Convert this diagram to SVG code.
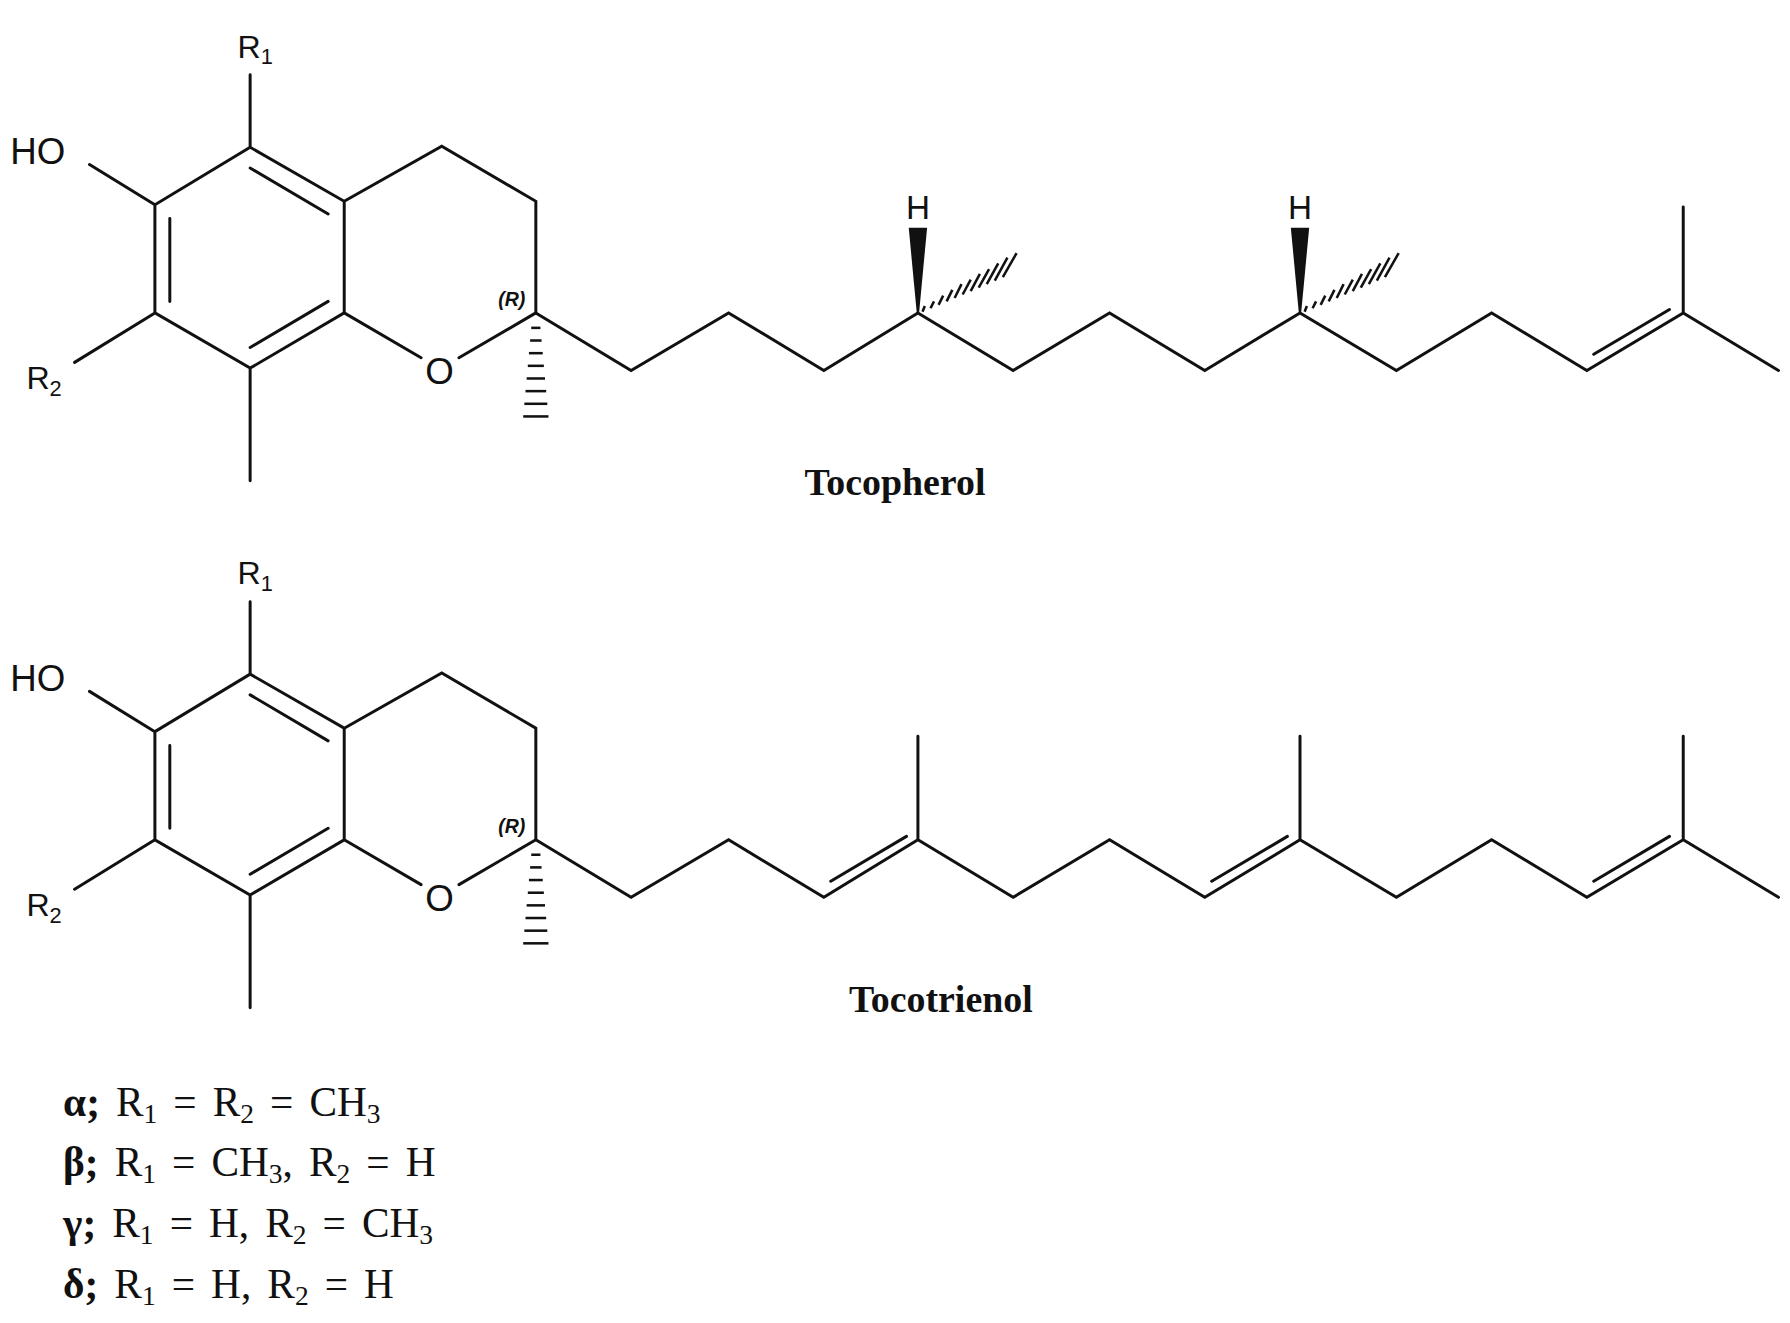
<svg xmlns="http://www.w3.org/2000/svg" width="1790" height="1323" viewBox="0 0 1790 1323">
<style>
.b{stroke:#111;stroke-width:2.6;fill:none;stroke-linecap:round}
.s{font-family:"Liberation Sans",Arial,sans-serif;fill:#111}
.t{font-family:"Liberation Serif","Times New Roman",serif;fill:#111}
.h{stroke:#111;stroke-width:2.2}
</style>
<defs>
<g id="core">
<path class="b" d="M218,65V128L300,175V272L218,320L135,272V178L218,128M300,175L385,127L467,175V272M300,272L367,311M400,311L467,272M218,320V418M78,143L135,178M65,315L135,272"/>
<path class="b" d="M218,146L286,186M148,190V262M218,302L286,262"/>
<g class="h">
<line x1="463" y1="285" x2="471" y2="285"/><line x1="462" y1="296" x2="472" y2="296"/><line x1="461" y1="307" x2="473" y2="307"/><line x1="460" y1="318" x2="474" y2="318"/><line x1="459" y1="329" x2="475" y2="329"/><line x1="458" y1="340" x2="476" y2="340"/><line x1="457" y1="351" x2="477" y2="351"/><line x1="456" y1="362" x2="478" y2="362"/>
</g>
<text class="s" x="207" y="50" font-size="28">R<tspan font-size="19" dy="6">1</tspan></text>
<text class="s" x="9" y="143" font-size="32">HO</text>
<text class="s" x="23" y="338" font-size="28">R<tspan font-size="19" dy="6">2</tspan></text>
<text class="s" x="383" y="334" font-size="32" text-anchor="middle">O</text>
<text class="s" x="446" y="266" font-size="17" font-style="italic" font-weight="bold" text-anchor="middle">(R)</text>
</g>
<g id="stereo">
<polygon points="792,198 808,198 801,272 799,272" fill="#111"/>
<g class="h">
<line x1="806" y1="266" x2="804" y2="271"/><line x1="814" y1="262" x2="811" y2="268"/><line x1="822" y1="257" x2="818" y2="265"/><line x1="830" y1="252" x2="825" y2="262"/><line x1="838" y1="247" x2="832" y2="259"/><line x1="846" y1="243" x2="839" y2="256"/><line x1="854" y1="238" x2="846" y2="253"/><line x1="862" y1="234" x2="853" y2="250"/><line x1="870" y1="229" x2="860" y2="247"/><line x1="878" y1="224" x2="867" y2="244"/><line x1="886" y1="220" x2="874" y2="241"/>
</g>
<text class="s" x="800" y="190" font-size="29" text-anchor="middle">H</text>
</g>
</defs>
<g transform="scale(1.1474,1.1504)">
<g id="tocopherol">
<use href="#core"/>
<path class="b" d="M467,272L550,322L635,272L718,322L800,272L883,322L967,272L1050,322L1133,272L1217,322L1300,272L1383,322L1467,272L1550,322M1467,272V180M1389,308L1455,269"/>
<use href="#stereo"/>
<use href="#stereo" transform="translate(333,0)"/>
<text class="t" x="780" y="430" font-size="33" font-weight="bold" text-anchor="middle">Tocopherol</text>
</g>
<g id="tocotrienol" transform="translate(0,458)">
<use href="#core"/>
<path class="b" d="M467,272L550,322L635,272L718,322L800,272L883,322L967,272L1050,322L1133,272L1217,322L1300,272L1383,322L1467,272L1550,322M800,272V182M1133,272V182M1467,272V182M724,308L790,269M1056,308L1122,269M1389,308L1455,269"/>
<text class="t" x="820" y="422" font-size="33" font-weight="bold" text-anchor="middle">Tocotrienol</text>
</g>
<g id="legend" class="t" font-size="36" word-spacing="5">
<text x="55" y="970"><tspan font-weight="bold">α;</tspan> R<tspan font-size="24" dy="6">1</tspan><tspan dy="-6"> = R</tspan><tspan font-size="24" dy="6">2</tspan><tspan dy="-6"> = CH</tspan><tspan font-size="24" dy="6">3</tspan></text>
<text x="55" y="1022"><tspan font-weight="bold">β;</tspan> R<tspan font-size="24" dy="6">1</tspan><tspan dy="-6"> = CH</tspan><tspan font-size="24" dy="6">3</tspan><tspan dy="-6">, R</tspan><tspan font-size="24" dy="6">2</tspan><tspan dy="-6"> = H</tspan></text>
<text x="55" y="1075"><tspan font-weight="bold">γ;</tspan> R<tspan font-size="24" dy="6">1</tspan><tspan dy="-6"> = H, R</tspan><tspan font-size="24" dy="6">2</tspan><tspan dy="-6"> = CH</tspan><tspan font-size="24" dy="6">3</tspan></text>
<text x="55" y="1128"><tspan font-weight="bold">δ;</tspan> R<tspan font-size="24" dy="6">1</tspan><tspan dy="-6"> = H, R</tspan><tspan font-size="24" dy="6">2</tspan><tspan dy="-6"> = H</tspan></text>
</g>
</g>
</svg>
